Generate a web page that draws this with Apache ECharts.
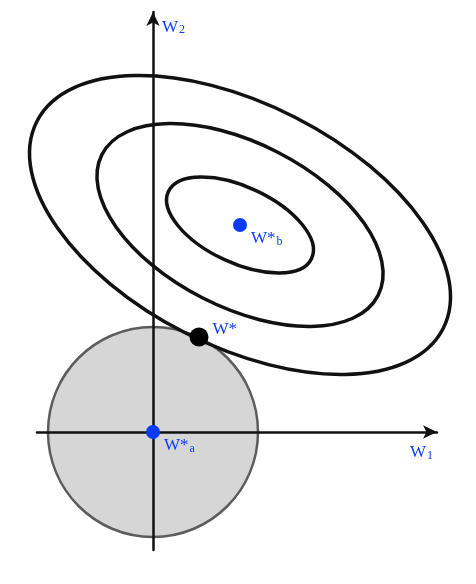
<!DOCTYPE html>
<html>
<head>
<meta charset="utf-8">
<script src="https://cdn.jsdelivr.net/npm/echarts@6/dist/echarts.min.js"></script>
<style>
  html, body { margin: 0; padding: 0; background: #fff; }
  #chart { width: 476px; height: 584px; }
</style>
</head>
<body>
<div id="chart"></div>
<script>
// constraint region (circle round the origin) and loss contours (tilted ellipses)
const circleCenter = [0, 0]
const circleRadius = 1.05

const ellipseCenter = [0.87, 2.07]
const semiMajor = [0.79, 1.55, 2.28]
const semiMinor = [0.38, 0.82, 1.21]
const tiltDeg = [-25, -27, -27]

// the three marked points
const minW1 = [0, 0.87]
const minW2 = [0, 2.07]
const minLabels = ['{m|W*}{s|a}', '{m|W*}{s|b}']
const solW1 = [0.46]
const solW2 = [0.95]
const solLabels = ['{m|W*}']

const blue = '#0a3cff'
const serif = '"Liberation Serif", "DejaVu Serif", serif'

const richText = {
  m: { fontFamily: serif, fontSize: 17, color: blue },
  s: { fontFamily: serif, fontSize: 12, color: blue, padding: [5, 0, 0, 1] }
}

const chart = echarts.init(document.getElementById('chart'))

const ellipseData = semiMajor.map((a, i) => [ellipseCenter[0], ellipseCenter[1], a, semiMinor[i], tiltDeg[i]])

const options = {
  animation: false,
  grid: { left: 37, right: 39, top: 12, bottom: 34 },
  xAxis: {
    type: 'value',
    min: -1.16,
    max: 2.84,
    z: 3,
    name: '{m|W}{s|1}',
    nameLocation: 'end',
    nameGap: -27,
    nameTextStyle: { align: 'left', padding: [42, 0, 0, 0], rich: richText },
    axisLine: { onZero: true, symbol: ['none', 'arrow'], symbolSize: [10, 14], lineStyle: { color: '#111', width: 2.5 } },
    axisTick: { show: false },
    axisLabel: { show: false },
    splitLine: { show: false }
  },
  yAxis: {
    type: 'value',
    min: -1.18,
    max: 4.2,
    z: 3,
    name: '{m|W}{s|2}',
    nameLocation: 'end',
    nameGap: -24,
    nameTextStyle: { align: 'left', padding: [0, 0, 0, 9], rich: richText },
    axisLine: { onZero: true, symbol: ['none', 'arrow'], symbolSize: [10, 14], lineStyle: { color: '#111', width: 2.5 } },
    axisTick: { show: false },
    axisLabel: { show: false },
    splitLine: { show: false }
  },
  series: [
    {
      type: 'custom',
      z: 1,
      silent: true,
      data: [[circleCenter[0], circleCenter[1], circleRadius]],
      renderItem(params, api) {
        const c = api.coord([api.value(0), api.value(1)])
        const r = api.size([api.value(2), api.value(2)])
        return {
          type: 'ellipse',
          shape: { cx: c[0], cy: c[1], rx: r[0], ry: r[1] },
          style: { fill: '#d6d6d6', stroke: '#5c5c5c', lineWidth: 2.5 }
        }
      }
    },
    {
      type: 'custom',
      z: 4,
      silent: true,
      data: ellipseData,
      renderItem(params, api) {
        const c = api.coord([api.value(0), api.value(1)])
        const s = api.size([api.value(2), api.value(3)])
        return {
          type: 'ellipse',
          x: c[0],
          y: c[1],
          rotation: api.value(4) * Math.PI / 180,
          shape: { cx: 0, cy: 0, rx: s[0], ry: s[1] },
          style: { fill: 'none', stroke: '#111', lineWidth: 3.5 }
        }
      }
    },
    {
      type: 'scatter',
      z: 5,
      symbolSize: 14,
      itemStyle: { color: blue, opacity: 1 },
      data: minW1.map((x, i) => ({ value: [x, minW2[i]], label: { formatter: minLabels[i] } })),
      label: {
        show: true,
        position: 'right',
        distance: 2,
        offset: [2, 14],
        rich: richText
      }
    },
    {
      type: 'scatter',
      z: 5,
      symbolSize: 19,
      itemStyle: { color: '#000', opacity: 1 },
      data: solW1.map((x, i) => ({ value: [x, solW2[i]], label: { formatter: solLabels[i] } })),
      label: {
        show: true,
        position: 'right',
        distance: 3,
        offset: [1, -7],
        rich: richText
      }
    }
  ]
}

chart.setOption(options)
</script>
</body>
</html>
